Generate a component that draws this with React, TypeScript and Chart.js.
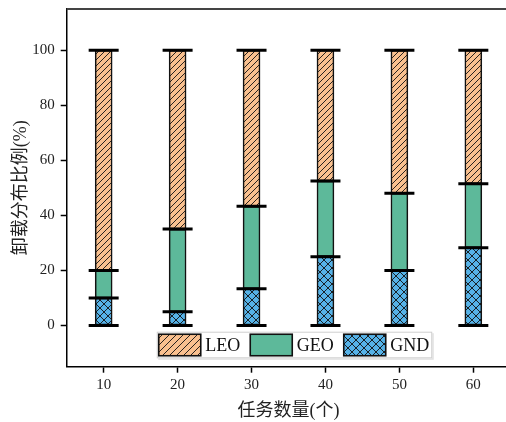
import React, { useEffect, useRef } from 'react';
import { Chart, registerables } from 'chart.js';

Chart.register(...registerables);

// ---- data ----
const categories = ['10', '20', '30', '40', '50', '60'];
const gnd = [10, 5, 13.3, 25, 20, 28.2];
const geo = [10, 30, 30, 27.5, 28, 23.3];
const leo = [80, 65, 56.7, 47.5, 52, 48.5];
const yTicks = [0, 20, 40, 60, 80, 100];
const legendOrder = ['LEO', 'GEO', 'GND'];
const xTitle = '任务数量(个)';
const yTitle = '卸载分布比例(%)';

const COLORS: Record<string, string> = {
  LEO: '#F9C08F',
  GEO: '#5DB99A',
  GND: '#56B2E7',
};

const SERIF = '"Liberation Serif", "Times New Roman", "Noto Sans CJK SC", serif';

function makePattern(bg: string, kind: 'diag' | 'cross' | 'none', size: number): CanvasPattern | string {
  if (kind === 'none') return bg;
  const c = document.createElement('canvas');
  c.width = size;
  c.height = size;
  const g = c.getContext('2d')!;
  g.fillStyle = bg;
  g.fillRect(0, 0, size, size);
  g.strokeStyle = '#111';
  g.lineWidth = 0.9;
  g.beginPath();
  g.moveTo(-1, size + 1);
  g.lineTo(size + 1, -1);
  g.moveTo(-1, 1);
  g.lineTo(1, -1);
  g.moveTo(size - 1, size + 1);
  g.lineTo(size + 1, size - 1);
  if (kind === 'cross') {
    g.moveTo(-1, -1);
    g.lineTo(size + 1, size + 1);
    g.moveTo(size - 1, -1);
    g.lineTo(size + 1, 1);
    g.moveTo(-1, size - 1);
    g.lineTo(1, size + 1);
  }
  g.stroke();
  const ctx = document.createElement('canvas').getContext('2d')!;
  return ctx.createPattern(c, 'repeat')!;
}

function zeroPadding(s: any) {
  s.paddingTop = 0;
  s.paddingBottom = 0;
  s.paddingLeft = 0;
  s.paddingRight = 0;
}

export default function App() {
  const ref = useRef<HTMLCanvasElement | null>(null);

  useEffect(() => {
    if (!ref.current) return;

    const fills: Record<string, CanvasPattern | string> = {
      LEO: makePattern(COLORS.LEO, 'diag', 6),
      GEO: COLORS.GEO,
      GND: makePattern(COLORS.GND, 'cross', 8),
    };
    const legendFills: Record<string, CanvasPattern | string> = {
      LEO: makePattern(COLORS.LEO, 'diag', 7),
      GEO: COLORS.GEO,
      GND: makePattern(COLORS.GND, 'cross', 8),
    };

    const zero = categories.map(() => 0);
    const gndTop = gnd.slice();
    const geoTop = gnd.map((v, i) => v + geo[i]);
    const total = gnd.map((v, i) => v + geo[i] + leo[i]);

    const capDs = (data: number[], k: number) => ({
      type: 'line' as const,
      label: '_cap' + k,
      data,
      stack: 'cap' + k,
      showLine: false,
      pointStyle: 'line' as const,
      pointRadius: 15,
      pointHoverRadius: 15,
      pointBorderWidth: 3,
      pointHoverBorderWidth: 3,
      pointBorderColor: '#000',
      borderColor: '#000',
      order: 0,
    });

    const barDs = (label: string, data: number[]) => ({
      type: 'bar' as const,
      label,
      data,
      stack: 'bars',
      backgroundColor: fills[label],
      borderColor: '#111',
      borderWidth: 1.6,
      borderSkipped: false,
      barThickness: 17,
      order: 1,
    });

    const frameAndLegend = {
      id: 'frameAndLegend',
      afterDraw(chart: any) {
        const { ctx, chartArea } = chart;
        const { left, top, right, bottom } = chartArea;
        ctx.save();
        ctx.strokeStyle = '#444';
        ctx.lineWidth = 2;
        ctx.beginPath();
        ctx.moveTo(left, top);
        ctx.lineTo(right, top);
        ctx.lineTo(right, bottom);
        ctx.stroke();

        ctx.font = '18px ' + SERIF;
        const boxW = 42;
        const boxH = 21.5;
        const gapText = 4.5;
        const gapItem = 10;
        const pad = 2;
        const widths = legendOrder.map((n) => ctx.measureText(n).width);
        let totalW = pad * 2 + 1;
        widths.forEach((w, i) => {
          totalW += boxW + gapText + w + (i < widths.length - 1 ? gapItem : 0);
        });
        const fx = (left + right) / 2 - totalW / 2 + 6;
        const fy = bottom - 35;
        const fh = 26.6;
        ctx.fillStyle = 'rgba(0,0,0,0.12)';
        ctx.fillRect(fx + 1.5, fy + 1.5, totalW, fh);
        ctx.fillStyle = '#fff';
        ctx.fillRect(fx, fy, totalW, fh);
        ctx.strokeStyle = '#cfcfcf';
        ctx.lineWidth = 1;
        ctx.strokeRect(fx + 0.5, fy + 0.5, totalW - 1, fh - 1);

        let x = fx + pad;
        const by = fy + (fh - boxH) / 2;
        legendOrder.forEach((n, i) => {
          ctx.fillStyle = legendFills[n] as any;
          ctx.fillRect(x, by, boxW, boxH);
          ctx.strokeStyle = '#111';
          ctx.lineWidth = 1.6;
          ctx.strokeRect(x, by, boxW, boxH);
          ctx.fillStyle = '#111';
          ctx.textBaseline = 'middle';
          ctx.textAlign = 'left';
          ctx.fillText(n, x + boxW + gapText, by + boxH / 2 + 1);
          x += boxW + gapText + widths[i] + gapItem;
        });
        ctx.restore();
      },
    };

    const chart = new Chart(ref.current, {
      type: 'bar',
      data: {
        labels: categories,
        datasets: [
          barDs('GND', gnd),
          barDs('GEO', geo),
          barDs('LEO', leo),
          capDs(zero, 0),
          capDs(gndTop, 1),
          capDs(geoTop, 2),
          capDs(total, 3),
        ] as any,
      },
      options: {
        responsive: false,
        animation: false,
        events: [],
        layout: { autoPadding: false, padding: { left: 0, top: 9, right: 3.7, bottom: 0 } },
        plugins: {
          legend: { display: false },
          tooltip: { enabled: false },
        },
        scales: {
          x: {
            stacked: true,
            afterFit: (s: any) => {
              s.height = 55.3;
              zeroPadding(s);
            },
            ticks: {
              font: { family: SERIF, size: 15 },
              color: '#222',
              padding: 3,
            },
            grid: {
              offset: false,
              drawOnChartArea: false,
              drawTicks: true,
              tickLength: 6,
              tickColor: '#000',
              tickWidth: 1.5,
            },
            border: { display: true, color: '#000', width: 1.5 },
            title: {
              display: true,
              text: xTitle,
              font: { family: SERIF, size: 18 },
              color: '#222',
              padding: { top: 0, bottom: 0 },
            },
          },
          y: {
            stacked: true,
            min: -15,
            max: 115,
            afterBuildTicks: (s: any) => {
              s.ticks = yTicks.map((v) => ({ value: v }));
            },
            afterFit: (s: any) => {
              s.width = 66.7;
              zeroPadding(s);
            },
            ticks: {
              font: { family: SERIF, size: 15 },
              color: '#222',
              padding: 6,
            },
            grid: {
              drawOnChartArea: false,
              drawTicks: true,
              tickLength: 6,
              tickColor: '#000',
              tickWidth: 1.5,
            },
            border: { display: true, color: '#000', width: 1.5 },
            title: {
              display: true,
              text: yTitle,
              font: { family: SERIF, size: 18 },
              color: '#222',
              padding: { top: 10, bottom: 0 },
            },
          },
        },
      } as any,
      plugins: [frameAndLegend],
    });

    return () => chart.destroy();
  }, []);

  return (
    <div style={{ position: 'fixed', left: 0, top: 0, width: 514, height: 422, background: '#fff' }}>
      <canvas ref={ref} width={514} height={422} style={{ display: 'block' }} />
    </div>
  );
}
